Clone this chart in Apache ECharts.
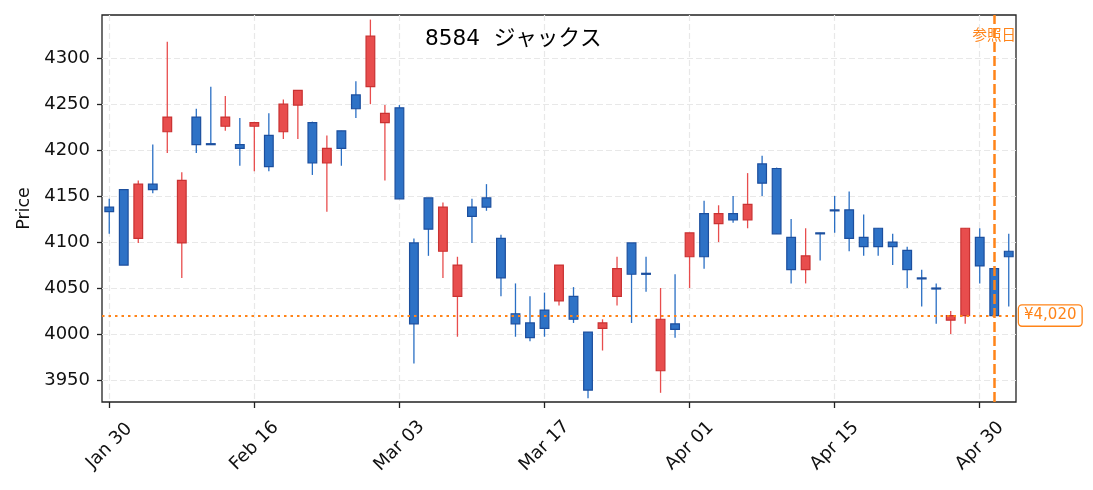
<!DOCTYPE html>
<html><head><meta charset="utf-8">
<script src="https://cdn.jsdelivr.net/npm/echarts@6.0.0/dist/echarts.min.js"></script>
<style>html,body{margin:0;padding:0;background:#fff}#c{width:1093px;height:490px}</style>
</head><body><div id="c"></div>
<script>
const titleText = '8584  ジャックス';
const dates = ['Jan 30','Feb 02','Feb 03','Feb 04','Feb 05','Feb 06','Feb 09','Feb 10','Feb 12','Feb 13',
  'Feb 16','Feb 17','Feb 18','Feb 19','Feb 20','Feb 24','Feb 25','Feb 26','Feb 27','Mar 02',
  'Mar 03','Mar 04','Mar 05','Mar 06','Mar 09','Mar 10','Mar 11','Mar 12','Mar 13','Mar 16',
  'Mar 17','Mar 18','Mar 19','Mar 23','Mar 24','Mar 25','Mar 26','Mar 27','Mar 30','Mar 31',
  'Apr 01','Apr 02','Apr 03','Apr 06','Apr 07','Apr 08','Apr 09','Apr 10','Apr 13','Apr 14',
  'Apr 15','Apr 16','Apr 17','Apr 20','Apr 21','Apr 22','Apr 23','Apr 24','Apr 27','Apr 28',
  'Apr 30','May 01','May 07'];
const opens = [4138,4157,4104,4163,4220,4099,4236,4207,4226,4206,
  4226,4216,4220,4249,4230,4186,4221,4260,4269,4230,
  4246,4099,4148,4090,4041,4138,4148,4104,4022,4012,
  4026,4036,4041,4002,4006,4041,4099,4066,3960,4011,
  4084,4131,4120,4131,4124,4185,4180,4105,4070,4110,
  4135,4135,4105,4115,4100,4091,4061,4050,4015,4020,
  4105,4071,4090];
const closes = [4133,4075,4163,4157,4236,4167,4206,4206,4236,4202,
  4230,4182,4250,4265,4186,4202,4202,4245,4324,4240,
  4147,4011,4114,4138,4075,4128,4138,4061,4011,3996,
  4006,4075,4016,3939,4012,4071,4065,4065,4016,4005,
  4110,4084,4131,4124,4141,4164,4109,4070,4085,4109,
  4134,4104,4095,4095,4095,4070,4060,4049,4020,4115,
  4074,4020,4084];
const lows = [4109,4075,4099,4153,4197,4061,4197,4206,4221,4183,
  4177,4177,4212,4212,4173,4133,4183,4235,4250,4167,
  4147,3968,4085,4061,3997,4099,4134,4041,3997,3992,
  3997,4031,4012,3930,3982,4031,4012,4046,3936,3996,
  4050,4071,4100,4121,4115,4150,4109,4055,4055,4080,
  4110,4090,4085,4085,4075,4050,4030,4011,4000,4011,
  4055,4020,4030];
const highs = [4147,4157,4167,4206,4318,4176,4245,4269,4259,4235,
  4231,4240,4255,4265,4231,4216,4221,4275,4342,4249,
  4249,4104,4148,4143,4084,4147,4163,4108,4055,4041,
  4045,4075,4051,4002,4016,4084,4099,4084,4050,4065,
  4110,4145,4140,4150,4175,4194,4181,4125,4115,4110,
  4150,4155,4130,4115,4109,4095,4070,4055,4025,4115,
  4115,4071,4109];
const yTicks = [3950,4000,4050,4100,4150,4200,4250,4300];
const refPrice = 4020;
const refIndex = 61;
const refLabel = '参照日';

const FONT = "'DejaVu Sans', 'Noto Sans CJK JP', sans-serif";
const UPF = '#e84d4d', UPB = '#c93232', UPW = '#e84d4d';
const DNF = '#2e72c6', DNB = '#1c4f9e', DNW = '#2a6fc4';
const ORANGE = '#ff8419';
const GRIDC = '#e8e8e8';
const labelEvery = (i) => i % 10 === 0;

const chart = echarts.init(document.getElementById('c'), null, {renderer: 'canvas'});

function renderItem(params, api) {
  const i = api.value(0), o = api.value(1), c = api.value(2), l = api.value(3), h = api.value(4);
  const up = c >= o;
  const pO = api.coord([i, o]), pC = api.coord([i, c]), pL = api.coord([i, l]), pH = api.coord([i, h]);
  const bw = api.size([1, 0])[0] * 0.6;
  const x = pO[0];
  const top = Math.min(pO[1], pC[1]);
  const hgt = Math.max(Math.abs(pO[1] - pC[1]), 1);
  return {type: 'group', children: [
    {type: 'line', shape: {x1: x, y1: pH[1], x2: x, y2: pL[1]}, style: {stroke: up ? UPW : DNW, lineWidth: 1.3}},
    {type: 'rect', shape: {x: x - bw / 2, y: top, width: bw, height: hgt},
     style: {fill: up ? UPF : DNF, stroke: up ? UPB : DNB, lineWidth: 1.2}}
  ]};
}

const seriesData = dates.map((d, i) => [i, opens[i], closes[i], lows[i], highs[i]]);

chart.setOption({
  animation: false,
  backgroundColor: '#fff',
  title: {text: titleText, left: 425, top: 29, padding: 0,
    textStyle: {fontFamily: FONT, fontSize: 21.6, fontWeight: 'normal', color: '#000'}},
  grid: {left: 102, right: 77, top: 15, bottom: 88, show: true, borderColor: '#222', borderWidth: 1.3,
    backgroundColor: 'transparent', containLabel: false},
  xAxis: {
    type: 'category', data: dates, boundaryGap: true,
    axisLine: {show: false},
    axisTick: {show: true, interval: labelEvery, alignWithLabel: true, length: 6,
      lineStyle: {color: '#222', width: 1.3}},
    axisLabel: {interval: labelEvery, rotate: 45, align: 'center', verticalAlign: 'middle', margin: 44,
      fontFamily: FONT, fontSize: 18, color: '#111'},
    splitLine: {show: true, interval: labelEvery, alignWithLabel: true,
      lineStyle: {color: GRIDC, width: 1.2, type: [6, 3]}}
  },
  yAxis: {
    type: 'value', min: 3926, max: 4347, minInterval: 50, maxInterval: 50, splitNumber: 8,
    name: 'Price', nameLocation: 'middle', nameGap: 63, nameRotate: 90,
    nameTextStyle: {fontFamily: FONT, fontSize: 17.5, color: '#111'},
    axisLine: {show: false},
    axisTick: {show: true, length: 5, customValues: yTicks, lineStyle: {color: '#222', width: 1.3}},
    axisLabel: {customValues: yTicks, margin: 12, formatter: (v) => String(v),
      fontFamily: FONT, fontSize: 18, color: '#111'},
    splitLine: {show: true, lineStyle: {color: GRIDC, width: 1.2, type: [6, 3]}}
  },
  series: [{
    type: 'custom', renderItem: renderItem, data: seriesData, clip: true,
    encode: {x: 0, y: [1, 2, 3, 4]},
    markLine: {
      silent: true, symbol: ['none', 'none'], animation: false, z: 10,
      data: [
        {yAxis: refPrice,
         lineStyle: {color: ORANGE, type: [2.5, 4], width: 2},
         label: {show: true, position: 'end', distance: 3,
           formatter: '¥' + refPrice.toLocaleString('en-US'),
           color: ORANGE, fontFamily: FONT, fontSize: 15,
           backgroundColor: '#fff', borderColor: ORANGE, borderWidth: 1.3, borderRadius: 3,
           padding: [3, 5, 2, 5]}},
        {xAxis: dates[refIndex],
         lineStyle: {color: ORANGE, type: [10, 4], width: 2.5},
         label: {show: true, position: 'end', distance: -28, formatter: refLabel,
           color: ORANGE, fontFamily: FONT, fontSize: 14.5}}
      ]
    }
  }]
});
</script></body></html>
